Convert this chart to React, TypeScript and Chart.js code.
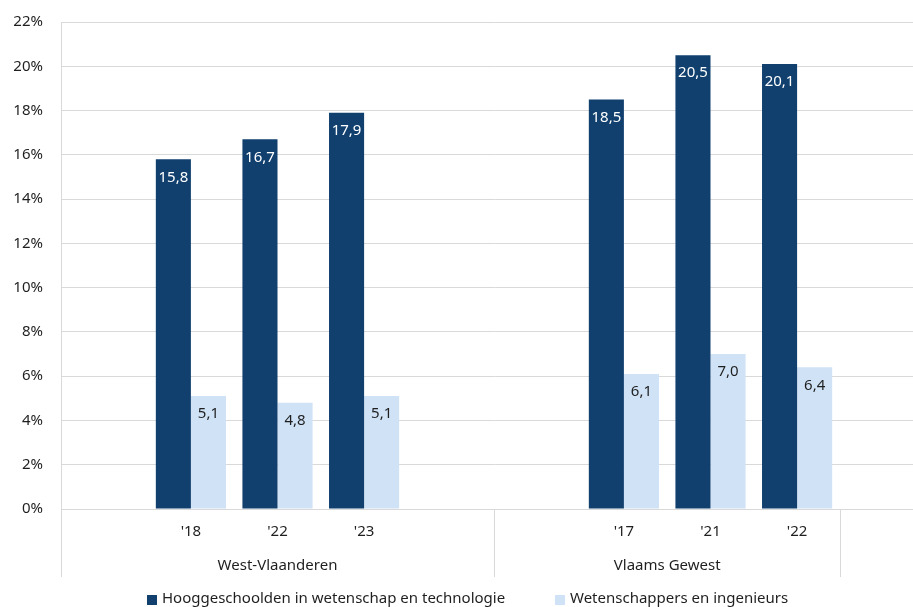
import React, { useEffect, useRef } from "react";
import { Chart, registerables } from "chart.js";

Chart.register(...registerables);

const categories = ["", "'18", "'22", "'23", "", "", "'17", "'21", "'22", ""];
const seriesHST = [null, 15.8, 16.7, 17.9, null, null, 18.5, 20.5, 20.1, null];
const seriesWI = [null, 5.1, 4.8, 5.1, null, null, 6.1, 7.0, 6.4, null];
const seriesNames = ["Hooggeschoolden in wetenschap en technologie", "Wetenschappers en ingenieurs"];
const groups = [
  { label: "West-Vlaanderen", from: 0, to: 4 },
  { label: "Vlaams Gewest", from: 5, to: 8 },
];
const yTicksMax = 22;

const DARK = "#11406F";
const LIGHT = "#CFE2F6";
const GRID = "#D9D9D9";
const TEXT = "#1F1F1F";
const FONT = "'Noto Sans', 'Open Sans', sans-serif";

const fmt = (v: number) => v.toFixed(1).replace(".", ",");

const customPlugin = {
  id: "custom",
  afterDatasetsDraw(chart: any) {
    const ctx = chart.ctx;
    ctx.save();
    ctx.font = `15px ${FONT}`;
    ctx.textAlign = "center";
    ctx.textBaseline = "middle";
    chart.data.datasets.forEach((ds: any, di: number) => {
      const meta = chart.getDatasetMeta(di);
      meta.data.forEach((bar: any, i: number) => {
        const v = ds.data[i];
        if (v == null) return;
        ctx.fillStyle = di === 0 ? "#FFFFFF" : TEXT;
        ctx.fillText(fmt(v), bar.x, bar.y + 18);
      });
    });
    ctx.restore();
  },
  afterDraw(chart: any) {
    const ctx = chart.ctx;
    const xs = chart.scales.x;
    const area = chart.chartArea;
    const n = categories.length;
    const slot = (xs.right - xs.left) / n;
    const edge = (i: number) => Math.round(xs.getPixelForValue(i) - slot / 2) + 0.5;
    ctx.save();
    ctx.strokeStyle = GRID;
    ctx.lineWidth = 1;
    const lines = [edge(0), edge(5), edge(9)];
    lines.forEach((x) => {
      ctx.beginPath();
      ctx.moveTo(x, area.bottom);
      ctx.lineTo(x, 577);
      ctx.stroke();
    });
    ctx.font = `15px ${FONT}`;
    ctx.fillStyle = TEXT;
    ctx.textAlign = "center";
    ctx.textBaseline = "middle";
    groups.forEach((g) => {
      const x0 = xs.getPixelForValue(g.from) - slot / 2;
      const x1 = xs.getPixelForValue(g.to) + slot / 2;
      ctx.fillText(g.label, (x0 + x1) / 2, 566);
    });
    // legend
    const items = [
      { name: seriesNames[0], color: DARK, x: 147 },
      { name: seriesNames[1], color: LIGHT, x: 555 },
    ];
    ctx.textAlign = "left";
    items.forEach((it) => {
      ctx.fillStyle = it.color;
      ctx.fillRect(it.x, 595, 10, 10);
      ctx.fillStyle = TEXT;
      ctx.fillText(it.name, it.x + 15, 599);
    });
    ctx.restore();
  },
};

export default function App() {
  const ref = useRef<HTMLCanvasElement>(null);
  useEffect(() => {
    if (!ref.current) return;
    const chart = new Chart(ref.current, {
      type: "bar",
      data: {
        labels: categories,
        datasets: [
          { label: seriesNames[0], data: seriesHST as any, backgroundColor: DARK, borderWidth: 0 },
          { label: seriesNames[1], data: seriesWI as any, backgroundColor: LIGHT, borderWidth: 0 },
        ],
      },
      options: {
        responsive: false,
        animation: false,
        devicePixelRatio: 1,
        layout: { padding: { top: 22, right: 0, left: 0, bottom: 0 } },
        plugins: { legend: { display: false }, tooltip: { enabled: false } },
        datasets: { bar: { categoryPercentage: 0.81, barPercentage: 1, skipNull: false } },
        scales: {
          x: {
            grid: { display: false, drawTicks: false },
            border: { display: false },
            ticks: { color: TEXT, font: { family: FONT, size: 15 }, padding: 14, autoSkip: false, maxRotation: 0 },
            afterFit: (s: any) => { s.height = 98; s.paddingLeft = 0; s.paddingRight = 0; },
          },
          y: {
            min: 0,
            max: yTicksMax,
            grid: { color: GRID, drawTicks: false },
            border: { display: true, color: GRID },
            ticks: {
              stepSize: 2,
              color: TEXT,
              padding: 18,
              font: { family: FONT, size: 15 },
              callback: (v: any) => `${v}%`,
            },
            afterFit: (s: any) => { s.width = 61; s.paddingTop = 0; s.paddingBottom = 0; },
          },
        },
      },
      plugins: [customPlugin],
    });
    return () => chart.destroy();
  }, []);
  return (
    <div style={{ position: "absolute", left: 0, top: 0, width: 913, height: 607, overflow: "hidden", background: "#fff" }}>
      <canvas ref={ref} width={927} height={607} style={{ display: "block" }} />
    </div>
  );
}
